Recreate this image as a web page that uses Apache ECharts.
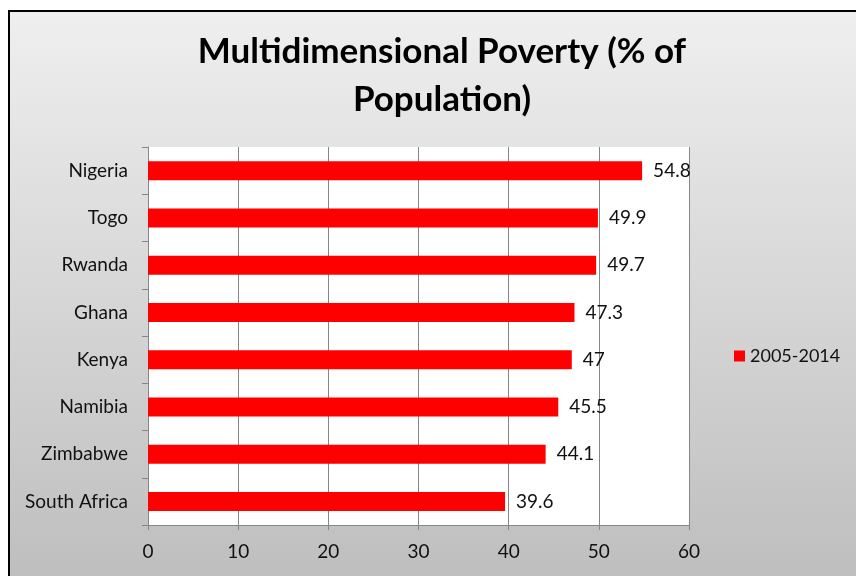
<!DOCTYPE html>
<html><head><meta charset="utf-8">
<script src="https://cdn.jsdelivr.net/npm/echarts@6/dist/echarts.min.js"></script>
<style>html,body{margin:0;padding:0;background:#fff}#c{width:856px;height:576px}</style>
</head><body><div id="c"></div>
<script>
const categories = ['Nigeria','Togo','Rwanda','Ghana','Kenya','Namibia','Zimbabwe','South Africa'];
const values = [54.8, 49.9, 49.7, 47.3, 47, 45.5, 44.1, 39.6];
const seriesName = '2005-2014';
const titleText = 'Multidimensional Poverty (% of\nPopulation)';
const font = 'Lato, "Open Sans", sans-serif';

const chart = echarts.init(document.getElementById('c'));
chart.setOption({
  animation: false,
  graphic: [{
    type: 'rect', z: -10, silent: true,
    shape: {x: 9, y: 11, width: 860, height: 580},
    style: {
      fill: new echarts.graphic.LinearGradient(0, 0, 0, 1, [
        {offset: 0, color: '#efefef'}, {offset: 1, color: '#bdbdbd'}
      ]),
      stroke: '#000', lineWidth: 2
    }
  }],
  title: {
    text: titleText, left: 437, top: 23, textAlign: 'center',
    textStyle: {fontFamily: font, fontWeight: 'bold', fontSize: 35, lineHeight: 48, color: '#000'}
  },
  legend: {
    data: [seriesName], left: 729, top: 342, orient: 'vertical',
    icon: 'rect', itemWidth: 11, itemHeight: 11, itemGap: 5,
    textStyle: {fontFamily: font, fontSize: 18, color: '#111'}
  },
  grid: {left: 148, right: 167, top: 147, bottom: 51, containLabel: false,
    show: true, backgroundColor: '#fff', borderWidth: 0},
  xAxis: {
    type: 'value', min: 0, max: 60, interval: 10,
    axisLine: {show: true, lineStyle: {color: '#868686'}},
    axisTick: {show: true, length: 5, lineStyle: {color: '#868686'}},
    splitLine: {show: true, lineStyle: {color: '#868686'}},
    axisLabel: {fontFamily: font, fontSize: 19, color: '#111', margin: 17}
  },
  yAxis: {
    type: 'category', data: categories, inverse: true,
    axisLine: {show: true, lineStyle: {color: '#868686'}},
    axisTick: {show: true, length: 6, lineStyle: {color: '#868686'}},
    axisLabel: {fontFamily: font, fontSize: 19, color: '#111', margin: 20}
  },
  series: [{
    name: seriesName, type: 'bar', data: values, barWidth: 19,
    itemStyle: {color: '#ff0000'},
    label: {show: true, position: 'right', distance: 11, fontFamily: font, fontSize: 19, color: '#111'}
  }]
});
</script></body></html>
